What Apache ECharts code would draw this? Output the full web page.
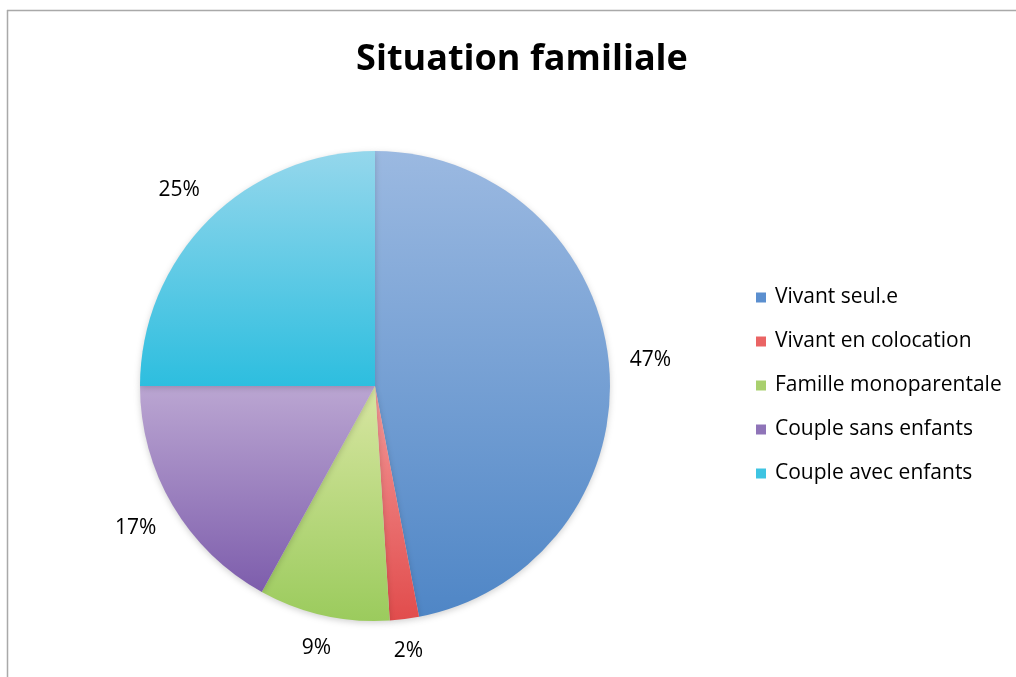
<!DOCTYPE html>
<html>
<head>
<meta charset="utf-8">
<script src="https://cdn.jsdelivr.net/npm/echarts@6/dist/echarts.min.js"></script>
<style>
  html, body { margin: 0; padding: 0; background: #fff; }
  #chart { width: 1016px; height: 677px; }
</style>
</head>
<body>
<div id="chart"></div>
<script>
const titleText = 'Situation familiale';
const categories = ['Vivant seul.e', 'Vivant en colocation', 'Famille monoparentale', 'Couple sans enfants', 'Couple avec enfants'];
const values = [47, 2, 9, 17, 25];
const topColors = ['#9bb9e1', '#f49a9a', '#d8e6a2', '#bba6d2', '#95d7ec'];
const bottomColors = ['#4f86c6', '#e14c4c', '#9bcb5d', '#7d5dac', '#2dbedf'];
const legendColors = ['#5b8fcf', '#ea6464', '#a9d06e', '#8f74b8', '#3ec4e2'];

const font = '"Open Sans", "Noto Sans", sans-serif';
const PIE_CENTER = [375, 386];
const PIE_RADIUS = 235;
const LABEL_GAP = 20;

const chart = echarts.init(document.getElementById('chart'), null, { renderer: 'canvas' });

const sliceData = categories.map((name, i) => ({
  name,
  value: values[i],
  itemStyle: {
    color: new echarts.graphic.LinearGradient(0, 0, 0, 1, [
      { offset: 0, color: topColors[i] },
      { offset: 1, color: bottomColors[i] }
    ])
  }
}));

// Excel-like "outside end" placement: push the label (initially centred on the
// slice's mid-angle ray) outward until its box clears the circle by LABEL_GAP.
function placeLabel(params) {
  const r = params.labelRect;
  const lx = r.x + r.width / 2, ly = r.y + r.height / 2;
  const vx = lx - PIE_CENTER[0], vy = ly - PIE_CENTER[1];
  const len = Math.sqrt(vx * vx + vy * vy) || 1;
  const ux = vx / len, uy = vy / len;
  const d = PIE_RADIUS + LABEL_GAP + Math.abs(ux) * r.width / 2 + Math.abs(uy) * r.height / 2;
  return {
    x: PIE_CENTER[0] + ux * d,
    y: PIE_CENTER[1] + uy * d,
    align: 'center',
    verticalAlign: 'middle'
  };
}

chart.setOption({
  backgroundColor: '#ffffff',
  animation: false,
  title: {
    text: titleText,
    left: 517,
    textAlign: 'center',
    top: 37,
    textStyle: { fontFamily: font, fontWeight: 'bold', fontSize: 36, color: '#000' }
  },
  legend: {
    orient: 'vertical',
    left: 756,
    top: 287,
    padding: 0,
    icon: 'rect',
    itemWidth: 10,
    itemHeight: 10,
    itemGap: 23,
    textStyle: { fontFamily: font, fontSize: 21, color: '#000', lineHeight: 20, padding: [0, 0, 0, 4] },
    data: categories.map((name, i) => ({ name, itemStyle: { color: legendColors[i] } }))
  },
  graphic: [
    { type: 'line', shape: { x1: 7, y1: 10.5, x2: 1016, y2: 10.5 }, style: { stroke: '#a9a9a9', lineWidth: 1.5 }, silent: true },
    { type: 'line', shape: { x1: 7.5, y1: 10, x2: 7.5, y2: 677 }, style: { stroke: '#a9a9a9', lineWidth: 1.5 }, silent: true }
  ],
  series: [{
    type: 'pie',
    center: PIE_CENTER,
    radius: PIE_RADIUS,
    startAngle: 90,
    clockwise: true,
    data: sliceData,
    itemStyle: {
      borderWidth: 0,
      shadowBlur: 6,
      shadowColor: 'rgba(0,0,0,0.18)',
      shadowOffsetY: 2
    },
    label: {
      show: true,
      position: 'inside',
      formatter: p => p.value + '%',
      fontFamily: font,
      fontSize: 21,
      color: '#000',
      textBorderWidth: 0
    },
    labelLine: { show: false },
    labelLayout: placeLabel,
    emphasis: { disabled: true }
  }]
});
</script>
</body>
</html>
